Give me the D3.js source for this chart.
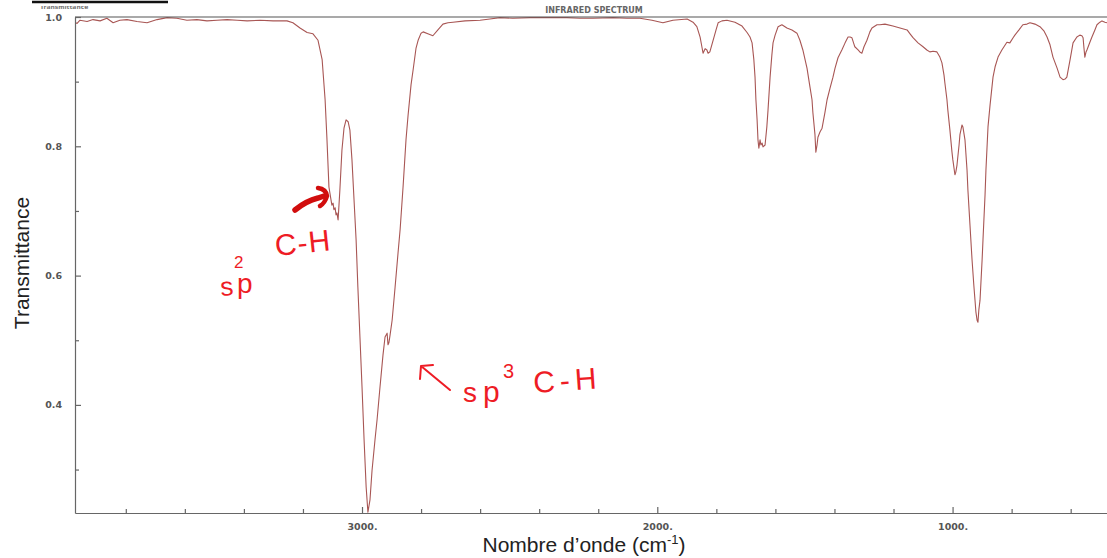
<!DOCTYPE html>
<html>
<head>
<meta charset="utf-8">
<script src="https://cdn.jsdelivr.net/npm/d3@7"></script>
<style>
  html, body { margin: 0; padding: 0; background: #fff; }
  svg { display: block; }
</style>
</head>
<body>
<svg id="chart" width="1107" height="558"></svg>
<script>
// ---- data ----
const wavenumber = [3972,3965,3955,3931,3911,3887,3864,3843,3820,3796,3762,3728,3694,3660,3627,3593,3559,3525,3491,3457,3423,3389,3345,3301,3254,3234,3210,3186,3166,3149,3135,3125,3119,3112,3105,3102,3098,3095,3091,3088,3085,3081,3075,3068,3061,3054,3047,3041,3034,3027,3020,3014,3007,3000,2993,2986,2980,2973,2966,2956,2949,2939,2929,2922,2915,2912,2909,2905,2898,2888,2878,2871,2861,2851,2844,2834,2827,2817,2810,2800,2793,2777,2760,2743,2726,2709,2692,2651,2600,2567,2533,2489,2431,2374,2306,2262,2218,2150,2103,2059,2018,1981,1947,1899,1879,1866,1855,1849,1845,1838,1832,1828,1822,1811,1801,1794,1781,1764,1737,1713,1696,1686,1679,1673,1669,1666,1662,1659,1656,1652,1649,1645,1642,1635,1629,1625,1618,1612,1608,1601,1591,1578,1561,1544,1527,1517,1507,1493,1483,1476,1473,1466,1463,1459,1456,1449,1442,1432,1425,1415,1405,1398,1388,1375,1364,1354,1347,1341,1334,1331,1320,1314,1307,1300,1290,1280,1273,1256,1246,1229,1202,1178,1154,1144,1134,1117,1100,1087,1077,1066,1053,1043,1036,1029,1026,1019,1016,1009,1002,999,992,989,985,978,975,968,965,958,951,948,941,934,928,924,921,917,914,911,907,900,897,890,887,880,873,863,856,846,833,816,806,795,789,775,762,748,738,721,704,690,680,670,660,646,636,626,619,613,602,592,579,569,562,558,555,552,548,545,535,528,518,511,501,494,484,477];
const transmittance = [0.992,0.990,0.995,0.993,0.996,0.994,0.998,0.991,0.995,0.996,0.993,0.991,0.996,0.999,0.998,0.995,0.996,0.994,0.995,0.996,0.995,0.994,0.995,0.994,0.994,0.991,0.983,0.976,0.974,0.964,0.934,0.872,0.814,0.737,0.717,0.709,0.712,0.702,0.705,0.694,0.697,0.686,0.732,0.794,0.828,0.841,0.838,0.825,0.779,0.717,0.655,0.582,0.505,0.428,0.346,0.273,0.234,0.253,0.299,0.346,0.377,0.428,0.477,0.505,0.511,0.493,0.496,0.508,0.531,0.582,0.635,0.671,0.737,0.810,0.848,0.895,0.918,0.952,0.964,0.975,0.977,0.974,0.971,0.980,0.989,0.991,0.992,0.994,0.995,0.997,0.999,0.998,0.999,0.999,0.999,0.998,0.998,0.999,0.998,0.998,0.995,0.991,0.995,0.997,0.992,0.985,0.969,0.954,0.944,0.951,0.949,0.944,0.946,0.964,0.980,0.991,0.994,0.995,0.992,0.986,0.976,0.969,0.960,0.934,0.907,0.872,0.841,0.810,0.797,0.810,0.802,0.805,0.799,0.802,0.830,0.856,0.907,0.941,0.960,0.972,0.985,0.988,0.983,0.980,0.975,0.964,0.949,0.921,0.892,0.872,0.852,0.818,0.791,0.802,0.814,0.822,0.828,0.853,0.872,0.890,0.907,0.921,0.937,0.949,0.960,0.969,0.969,0.968,0.958,0.954,0.949,0.946,0.944,0.954,0.964,0.977,0.983,0.988,0.988,0.989,0.986,0.983,0.980,0.974,0.968,0.960,0.954,0.949,0.946,0.947,0.946,0.938,0.929,0.910,0.898,0.872,0.856,0.825,0.791,0.779,0.756,0.760,0.771,0.802,0.818,0.833,0.830,0.810,0.763,0.732,0.678,0.624,0.585,0.562,0.544,0.531,0.528,0.547,0.562,0.624,0.655,0.725,0.763,0.830,0.864,0.907,0.923,0.938,0.949,0.961,0.960,0.968,0.972,0.980,0.988,0.989,0.991,0.989,0.985,0.978,0.969,0.957,0.938,0.921,0.907,0.903,0.904,0.907,0.934,0.960,0.969,0.972,0.971,0.968,0.952,0.938,0.946,0.949,0.961,0.969,0.980,0.988,0.992,0.994,0.992,0.991];

const xMajorTicks = [3000, 2000, 1000];
const xMinorTicks = [3800, 3600, 3400, 3200, 2800, 2600, 2400, 2200, 1800, 1600, 1400, 1200, 800, 600];
const yMajorTicks = [1.0, 0.8, 0.6, 0.4];
const yMinorTicks = [0.9, 0.7, 0.5, 0.3];

const xTitle = "Nombre d\u2019onde (cm";
const xTitleSup = "-1";
const yTitle = "Transmittance";

// ---- layout ----
const svg = d3.select("#chart");
const L = 75, T = 17, R = 1107, B = 513;

const x = d3.scaleLinear().domain([3972, 477]).range([L, R]);
const y = d3.scaleLinear().domain([1.0, 0.2328]).range([T, B]);

const axisColor = "#666";
const labelColor = "#555";

// faint cut-off header texts (drawn first, partly hidden by a white band)
const fontFam = "'DejaVu Sans', sans-serif";
svg.append("text").attr("x", 594).attr("y", 13).attr("text-anchor", "middle")
  .attr("font-family", fontFam).attr("font-size", 8).attr("font-weight", "bold")
  .attr("fill", "#666").text("INFRARED SPECTRUM");
svg.append("text").attr("x", 40).attr("y", 9)
  .attr("font-family", fontFam).attr("font-size", 6).attr("font-weight", "bold")
  .attr("fill", "#777").text("Transmittance");
svg.append("rect").attr("x", 0).attr("y", 0).attr("width", 1107).attr("height", 6).attr("fill", "#fff");

// clip
svg.append("defs").append("clipPath").attr("id", "clip")
  .append("rect").attr("x", L).attr("y", T - 2).attr("width", R - L + 5).attr("height", B - T + 4);

// spectrum
const pts = wavenumber.map((w, i) => [w, transmittance[i]]);
svg.append("path")
  .datum(pts)
  .attr("clip-path", "url(#clip)")
  .attr("fill", "none")
  .attr("stroke", "#a85654")
  .attr("stroke-width", 1.1)
  .attr("stroke-linejoin", "round")
  .attr("d", d3.line().x(d => x(d[0])).y(d => y(d[1])));

// top frame line
svg.append("line").attr("x1", L).attr("x2", R).attr("y1", T).attr("y2", T)
  .attr("stroke", "#555").attr("stroke-width", 1.2);

// axes
function styleAxis(g) {
  g.select(".domain").attr("stroke", axisColor).attr("stroke-width", 1.2);
  g.selectAll(".tick line").attr("stroke", axisColor).attr("stroke-width", 1.2);
  g.selectAll(".tick text").attr("fill", labelColor).attr("font-family", fontFam)
    .attr("font-size", 9.5).attr("font-weight", "bold");
}

const yAxis = svg.append("g").attr("transform", `translate(${L},0)`)
  .call(d3.axisLeft(y).tickValues(yMajorTicks).tickSizeInner(-6).tickSizeOuter(0)
    .tickPadding(13).tickFormat(d3.format(".1f")));
styleAxis(yAxis);
const yMinor = svg.append("g").attr("transform", `translate(${L},0)`)
  .call(d3.axisLeft(y).tickValues(yMinorTicks).tickSizeInner(-4).tickSizeOuter(0).tickFormat(""));
styleAxis(yMinor);
yMinor.select(".domain").remove();

const xAxis = svg.append("g").attr("transform", `translate(0,${B})`)
  .call(d3.axisBottom(x).tickValues(xMajorTicks).tickSizeInner(-6).tickSizeOuter(0)
    .tickPadding(10).tickFormat(d => d + "."));
styleAxis(xAxis);
const xMinor = svg.append("g").attr("transform", `translate(0,${B})`)
  .call(d3.axisBottom(x).tickValues(xMinorTicks).tickSizeInner(-4).tickSizeOuter(0).tickFormat(""));
styleAxis(xMinor);
xMinor.select(".domain").remove();

// axis titles
const titleFont = "'Liberation Sans', Arial, sans-serif";
const xt = svg.append("text")
  .attr("x", 584).attr("y", 552)
  .attr("text-anchor", "middle")
  .attr("font-family", titleFont).attr("font-size", 21).attr("fill", "#222");
xt.append("tspan").text(xTitle);
xt.append("tspan").attr("font-size", 13).attr("dy", -8).text(xTitleSup);
xt.append("tspan").attr("dy", 8).text(")");

svg.append("text")
  .attr("transform", "translate(29,263) rotate(-90)")
  .attr("text-anchor", "middle")
  .attr("font-family", titleFont).attr("font-size", 21).attr("fill", "#222")
  .text(yTitle);

// underline stroke from the page above
svg.append("line").attr("x1", 32).attr("x2", 168).attr("y1", 2).attr("y2", 2)
  .attr("stroke", "#111").attr("stroke-width", 2.5);

// ---- handwritten annotations ----
const red = "#ee1c25";
const hand = "'Liberation Sans', 'DejaVu Sans', sans-serif";

function txt(s, xx, yy, size, rot, ls) {
  svg.append("text").attr("transform", `translate(${xx},${yy}) rotate(${rot || 0})`)
    .attr("font-family", hand).attr("font-size", size).attr("fill", red)
    .attr("letter-spacing", ls || 0)
    .attr("font-weight", 300).text(s);
}
// sp2 C-H
txt("s", 221, 296, 26, -5);
txt("p", 237, 293, 28, 0);
txt("2", 234, 268, 17, 0);
txt("C-H", 276, 256, 30, -6, 1);
// thick arrow toward the sp2 shoulder
svg.append("path")
  .attr("d", "M295,210 Q306,201 318,198 L324,196")
  .attr("fill", "none").attr("stroke", "#d10d0d").attr("stroke-width", 5.5).attr("stroke-linecap", "round");
svg.append("path")
  .attr("d", "M318,188 Q326,189 327,196 Q325,203 320,206")
  .attr("fill", "none").attr("stroke", "#d10d0d").attr("stroke-width", 4.5).attr("stroke-linecap", "round");

// sp3 C-H
txt("s", 463, 402, 28, 0);
txt("p", 483, 402, 30, 0);
txt("3", 503, 378, 20, 0);
txt("C-H", 534, 393, 30, -4, 5);
// thin arrow pointing to the sp3 band
svg.append("path")
  .attr("d", "M450,390 L421,366 M421,366 L420,379 M421,366 L433,365")
  .attr("fill", "none").attr("stroke", red).attr("stroke-width", 2).attr("stroke-linecap", "round");
</script>
</body>
</html>
